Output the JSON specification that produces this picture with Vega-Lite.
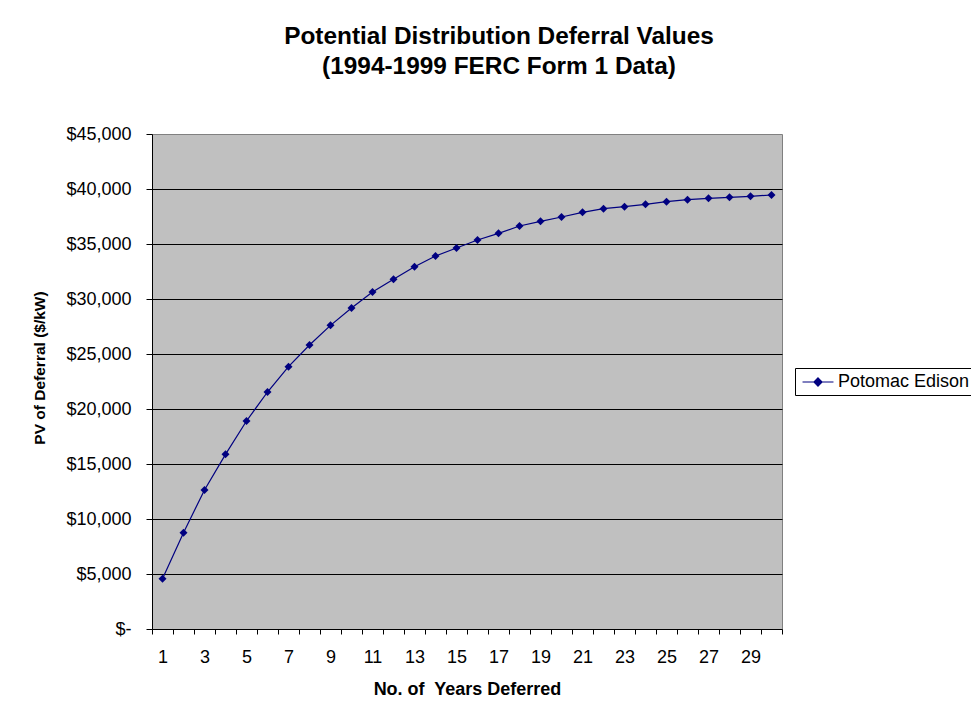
{
  "$schema": "https://vega.github.io/schema/vega-lite/v6.json",
  "width": 630,
  "height": 495,
  "autosize": {"type": "none"},
  "padding": {"left": 152, "top": 134, "right": 189, "bottom": 86},
  "background": "white",
  "title": {
    "text": ["Potential Distribution Deferral Values", "(1994-1999 FERC Form 1 Data)"],
    "font": "Liberation Sans",
    "fontSize": 24.4,
    "fontWeight": "bold",
    "color": "black",
    "lineHeight": 30,
    "anchor": "middle",
    "dx": 32,
    "offset": 46
  },
  "data": {
    "values": [
      {"year": 1, "value": 4573},
      {"year": 2, "value": 8755},
      {"year": 3, "value": 12636},
      {"year": 4, "value": 15879},
      {"year": 5, "value": 18909},
      {"year": 6, "value": 21545},
      {"year": 7, "value": 23848},
      {"year": 8, "value": 25818},
      {"year": 9, "value": 27606},
      {"year": 10, "value": 29182},
      {"year": 11, "value": 30636},
      {"year": 12, "value": 31788},
      {"year": 13, "value": 32939},
      {"year": 14, "value": 33909},
      {"year": 15, "value": 34636},
      {"year": 16, "value": 35364},
      {"year": 17, "value": 35970},
      {"year": 18, "value": 36636},
      {"year": 19, "value": 37061},
      {"year": 20, "value": 37455},
      {"year": 21, "value": 37879},
      {"year": 22, "value": 38212},
      {"year": 23, "value": 38394},
      {"year": 24, "value": 38606},
      {"year": 25, "value": 38848},
      {"year": 26, "value": 39030},
      {"year": 27, "value": 39152},
      {"year": 28, "value": 39242},
      {"year": 29, "value": 39333},
      {"year": 30, "value": 39455}
    ]
  },
  "encoding": {
    "x": {
      "field": "year",
      "type": "quantitative",
      "scale": {"domain": [0.5, 30.5], "nice": false, "zero": false},
      "axis": {
        "title": "No. of\u00a0 Years Deferred",
        "values": [0.5, 1, 1.5, 2.5, 3, 3.5, 4.5, 5, 5.5, 6.5, 7, 7.5, 8.5, 9, 9.5, 10.5, 11, 11.5, 12.5, 13, 13.5, 14.5, 15, 15.5, 16.5, 17, 17.5, 18.5, 19, 19.5, 20.5, 21, 21.5, 22.5, 23, 23.5, 24.5, 25, 25.5, 26.5, 27, 27.5, 28.5, 29, 29.5, 30.5],
        "labelExpr": "datum.value % 2 == 1 ? format(datum.value, 'd') : ''",
        "labelOverlap": false,
        "labelBound": false,
        "labelFlush": false,
        "grid": false,
        "tickSize": 5,
        "tickColor": "black",
        "tickOpacity": {"condition": {"test": "datum.value % 1 == 0", "value": 0}, "value": 1},
        "domainColor": "black",
        "labelPadding": 14,
        "labelFont": "Liberation Sans",
        "labelFontSize": 18,
        "labelColor": "black",
        "titleFont": "Liberation Sans",
        "titleFontSize": 18,
        "titleFontWeight": "bold",
        "titleColor": "black",
        "titleBaseline": "top",
        "titleY": 51
      }
    },
    "y": {
      "field": "value",
      "type": "quantitative",
      "scale": {"domain": [0, 45000], "nice": false},
      "axis": {
        "title": "PV of Deferral ($/kW)",
        "values": [0, 5000, 10000, 15000, 20000, 25000, 30000, 35000, 40000, 45000],
        "labelExpr": "datum.value == 0 ? '$-\u00a0\u00a0\u00a0\u00a0' : '$' + format(datum.value, ',')",
        "grid": true,
        "gridColor": "black",
        "gridWidth": 1,
        "gridOpacity": {"condition": {"test": "datum.value == 0 || datum.value == 45000", "value": 0}, "value": 1},
        "tickSize": 6,
        "tickColor": "black",
        "domainColor": "black",
        "labelPadding": 15,
        "labelFont": "Liberation Sans",
        "labelFontSize": 18,
        "labelColor": "black",
        "titleFont": "Liberation Sans",
        "titleFontSize": 15.5,
        "titleFontWeight": "bold",
        "titleColor": "black",
        "titleAngle": -90,
        "titleAlign": "center",
        "titleBaseline": "alphabetic",
        "titleX": -108,
        "titleY": 233.5
      }
    }
  },
  "layer": [
    {
      "mark": {"type": "line", "strokeWidth": 1.2},
      "encoding": {
        "color": {
          "datum": "Potomac Edison",
          "type": "nominal",
          "scale": {"range": ["#000080"]},
          "legend": {
            "title": null,
            "orient": "none",
            "legendX": 643,
            "legendY": 234,
            "strokeColor": "black",
            "fillColor": "white",
            "padding": 4,
            "labelFont": "Liberation Sans",
            "labelFontSize": 18,
            "labelColor": "black",
            "labelOffset": 10,
            "symbolOffset": 9,
            "symbolType": "M-1.72,0L1.72,0M0,-0.45L0.45,0L0,0.45L-0.45,0Z",
            "symbolSize": 324,
            "symbolStrokeWidth": 1.2,
            "symbolStrokeColor": "#000080",
            "symbolFillColor": "#000080"
          }
        }
      }
    },
    {
      "mark": {"type": "point", "shape": "diamond", "filled": true, "size": 64, "opacity": 1},
      "encoding": {
        "color": {"datum": "Potomac Edison", "type": "nominal"}
      }
    }
  ],
  "config": {
    "view": {"stroke": "#808080", "fill": "#C0C0C0"}
  }
}
